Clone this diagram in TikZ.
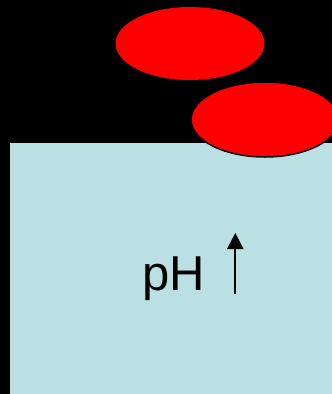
\documentclass[tikz,border=0pt]{standalone}
\usepackage{fontspec}
\setmainfont{Liberation Sans}
\usetikzlibrary{arrows.meta}
\definecolor{water}{HTML}{BAE0E3}
\tikzset{
  drop/.style={fill=red},
  label text/.style={font=\fontsize{49}{49}\selectfont, inner sep=0pt, anchor=base west},
  up arrow/.style={line width=2pt, -{Triangle[length=16pt,width=16pt]}}
}
\begin{document}
\begin{tikzpicture}[x=1pt,y=-1pt]
  % canvas
  \fill[black] (0,0) rectangle (332,394);
  \useasboundingbox (0,0) rectangle (332,394);
  % liquid
  \fill[water] (10,143) rectangle (332,394);
  % droplets
  \begin{scope}
    \clip (0,0) rectangle (332,394);
    \fill[drop] (190,43.5) ellipse [x radius=74.5, y radius=36.5];
    \filldraw[drop, draw=black, line width=1.5pt] (265,119.5) ellipse [x radius=74, y radius=37.5];
  \end{scope}
  % label with rising arrow
  \node[label text] (ph) at (142,290.5) {pH};
  \coordinate (a0) at (235.3,294);
  \coordinate (a1) at (235.3,233);
  \draw[up arrow] (a0) -- (a1);
\end{tikzpicture}
\end{document}
